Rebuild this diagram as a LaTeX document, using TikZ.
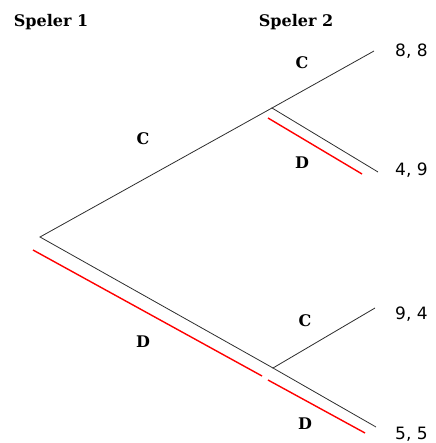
\documentclass[tikz,border=0pt]{standalone}
\usepackage{fontspec}
\setmainfont{DejaVu Serif}
\newfontfamily\payfont{DejaVu Sans}
\usetikzlibrary{positioning}
\definecolor{treeRed}{RGB}{255,0,0}
\definecolor{treeLine}{RGB}{45,45,45}

\begin{document}
\begin{tikzpicture}[x=1pt, y=-1pt,
    branch/.style={treeLine, line width=0.8pt},
    choice/.style={treeRed, line width=1.4pt},
    player/.style={font=\fontsize{16}{18}\selectfont\bfseries, inner sep=0pt, anchor=base},
    move/.style={font=\fontsize{16}{18}\selectfont\bfseries, inner sep=0pt, anchor=base},
    pay/.style={font=\payfont\fontsize{17}{19}\selectfont, inner sep=0pt, anchor=base west}
  ]
  \useasboundingbox (0,0) rectangle (435,443);

  % players
  \node[player] (sp1) at (51,27)  {Speler 1};
  \node[player] (sp2) at (296,27) {Speler 2};

  % decision points and ends of the branches
  \coordinate (root) at (40,237);
  \coordinate (up)   at (272,108);
  \coordinate (low)  at (273,368);
  \coordinate (cc)   at (374,51);
  \coordinate (cd)   at (378,172);
  \coordinate (dc)   at (375,308);
  \coordinate (dd)   at (376,427);

  \draw[branch] (up) -- (root) -- (low);
  \draw[branch] (cc) -- (up) -- (cd);
  \draw[branch] (dc) -- (low) -- (dd);

  % chosen moves
  \coordinate (r1a) at (33,250);
  \coordinate (r1b) at (262,376);
  \coordinate (r2a) at (268,380);
  \coordinate (r2b) at (365,433);
  \coordinate (r3a) at (268,118);
  \coordinate (r3b) at (362,174);
  \draw[choice] (r1a) -- (r1b);
  \draw[choice] (r2a) -- (r2b);
  \draw[choice] (r3a) -- (r3b);

  % moves
  \node[move] (mC)  at (143,145) {C};
  \node[move] (mD)  at (143,347) {D};
  \node[move] (mCC) at (302,69)  {C};
  \node[move] (mCD) at (302,169) {D};
  \node[move] (mDC) at (305,326) {C};
  \node[move] (mDD) at (305,429) {D};

  % payoffs
  \node[pay] (p88) at (395,57)  {8, 8};
  \node[pay] (p49) at (395,176) {4, 9};
  \node[pay] (p94) at (395,319) {9, 4};
  \node[pay] (p55) at (395,439) {5, 5};
\end{tikzpicture}
\end{document}
